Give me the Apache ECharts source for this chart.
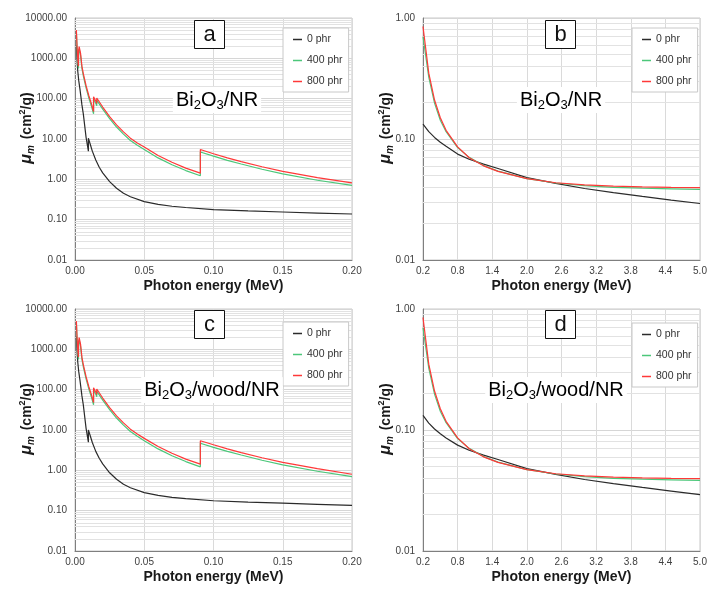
<!DOCTYPE html>
<html><head><meta charset="utf-8">
<script src="https://cdn.jsdelivr.net/npm/echarts@6/dist/echarts.min.js"></script>
<style>html,body{margin:0;padding:0;background:#fff}#c{width:720px;height:592px}</style>
</head><body><div id="c"></div>
<script>
// ---------- data ----------
const seriesNames = ['0 phr', '400 phr', '800 phr'];
const seriesColors = ['#2b2b2b', '#4cc77a', '#ff3838'];

// Panel a: Bi2O3/NR, low energy (MeV)
const aE0 = [0.001, 0.0015, 0.002, 0.0027, 0.0036, 0.005, 0.006, 0.008, 0.00966, 0.00966, 0.011, 0.0125, 0.015, 0.0175, 0.02, 0.025, 0.03, 0.035, 0.04, 0.05, 0.06, 0.07, 0.08, 0.1, 0.125, 0.15, 0.175, 0.2];
const aV0 = [2100, 900, 480, 280, 170, 70, 42, 11, 5.0, 10.5, 7.4, 5.0, 3.0, 2.0, 1.45, 0.88, 0.6, 0.45, 0.37, 0.28, 0.24, 0.215, 0.2, 0.178, 0.165, 0.155, 0.146, 0.138];
const aEBi = [0.001, 0.0015, 0.002, 0.0025, 0.00258, 0.00258, 0.003, 0.004, 0.005, 0.006, 0.008, 0.010, 0.012, 0.0134, 0.0134, 0.015, 0.0157, 0.0157, 0.020, 0.025, 0.030, 0.035, 0.040, 0.045, 0.050, 0.060, 0.070, 0.080, 0.0905, 0.0905, 0.100, 0.110, 0.120, 0.135, 0.150, 0.175, 0.200];
const aV400 = [4400, 1670, 835, 560, 545, 1320, 1715, 1190, 565, 370, 185, 104, 63, 42, 99, 77, 67, 92, 55, 32, 19.8, 13.2, 9.2, 7.0, 5.5, 3.4, 2.3, 1.65, 1.23, 4.75, 3.75, 2.95, 2.4, 1.78, 1.37, 0.95, 0.71];
const aV800 = [5000, 1900, 950, 640, 620, 1500, 1950, 1350, 640, 420, 210, 118, 72, 48, 112, 88, 76, 104, 62, 36, 22.5, 15, 10.5, 8.0, 6.3, 3.9, 2.65, 1.9, 1.42, 5.5, 4.3, 3.4, 2.75, 2.05, 1.58, 1.1, 0.82];

// Panel b: Bi2O3/NR, high energy (MeV)
const bE = [0.2, 0.3, 0.4, 0.5, 0.6, 0.8, 1.0, 1.25, 1.5, 2.0, 2.5, 3.0, 3.5, 4.0, 4.5, 5.0];
const bV0 = [0.133, 0.115, 0.103, 0.094, 0.087, 0.075, 0.068, 0.062, 0.057, 0.048, 0.043, 0.039, 0.036, 0.0335, 0.0313, 0.0293];
const bV400 = [0.70, 0.325, 0.198, 0.143, 0.115, 0.085, 0.0705, 0.0603, 0.0543, 0.047, 0.0433, 0.0412, 0.0399, 0.0392, 0.0387, 0.0383];
const bV800 = [0.85, 0.35, 0.21, 0.15, 0.118, 0.086, 0.070, 0.060, 0.054, 0.047, 0.0435, 0.0418, 0.0408, 0.0402, 0.0399, 0.0397];

// Panel c: Bi2O3/wood/NR, low energy
const cE0 = aE0.slice();
const cV0 = [2100, 900, 480, 280, 170, 70, 42, 11, 5.0, 10.0, 7.2, 4.9, 2.95, 2.0, 1.45, 0.87, 0.6, 0.45, 0.37, 0.28, 0.24, 0.213, 0.198, 0.176, 0.163, 0.153, 0.144, 0.136];
const cEBi = aEBi.slice();
const cV400 = [4400, 1670, 835, 560, 545, 1320, 1715, 1190, 565, 370, 185, 104, 63, 42, 99, 77, 67, 92, 55, 32, 19.8, 13.2, 9.2, 7.0, 5.4, 3.4, 2.3, 1.65, 1.22, 4.7, 3.7, 2.95, 2.4, 1.78, 1.36, 0.95, 0.70];
const cV800 = [5000, 1900, 950, 640, 620, 1500, 1950, 1350, 640, 420, 210, 118, 72, 48, 112, 88, 76, 104, 62, 36, 22.5, 15, 10.5, 8.0, 6.2, 3.9, 2.65, 1.9, 1.42, 5.4, 4.3, 3.4, 2.75, 2.05, 1.57, 1.1, 0.80];

// Panel d: Bi2O3/wood/NR, high energy
const dE = bE.slice();
const dV0 = [0.132, 0.114, 0.102, 0.093, 0.086, 0.075, 0.068, 0.062, 0.057, 0.048, 0.043, 0.039, 0.036, 0.0335, 0.0313, 0.0292];
const dV400 = [0.70, 0.325, 0.198, 0.143, 0.115, 0.085, 0.0705, 0.0603, 0.0543, 0.047, 0.0433, 0.0412, 0.0399, 0.0392, 0.0387, 0.0383];
const dV800 = [0.85, 0.35, 0.21, 0.15, 0.118, 0.086, 0.070, 0.060, 0.054, 0.047, 0.0435, 0.0418, 0.0408, 0.0402, 0.0399, 0.0397];

// tick labels
const lowXTicks = [0, 0.05, 0.10, 0.15, 0.20];
const highXTicks = [0.2, 0.8, 1.4, 2.0, 2.6, 3.2, 3.8, 4.4, 5.0];
const lowYTicks = [0.01, 0.1, 1, 10, 100, 1000, 10000];
const highYTicks = [0.01, 0.1, 1];
const panelLetters = ['a', 'b', 'c', 'd'];
const panelTitles = ['Bi2O3/NR', 'Bi2O3/NR', 'Bi2O3/wood/NR', 'Bi2O3/wood/NR'];

// ---------- build ----------
const zip = (xs, ys) => xs.map((x, i) => [x, ys[i]]);
const panels = [
  { sets: [[aE0, aV0], [aEBi, aV400], [aEBi, aV800]], low: true },
  { sets: [[bE, bV0], [bE, bV400], [bE, bV800]], low: false },
  { sets: [[cE0, cV0], [cEBi, cV400], [cEBi, cV800]], low: true },
  { sets: [[dE, dV0], [dE, dV400], [dE, dV800]], low: false }
];
const layout = [
  { left: 75, top: 18 }, { left: 423, top: 18 },
  { left: 75, top: 309 }, { left: 423, top: 309 }
];
const W = 277, H = 242;

const labelColor = '#404040';
const font = 'Liberation Sans, Arial, sans-serif';

function minorValues(ticks) {
  const out = [];
  for (let i = 0; i < ticks.length - 1; i++) {
    for (let k = 2; k <= 9; k++) out.push(ticks[i] * k);
  }
  return out;
}

const grid = [], xAxis = [], yAxis = [], series = [], legend = [], graphic = [];
panels.forEach((p, i) => {
  const L = layout[i];
  grid.push({ left: L.left, top: L.top, width: W, height: H, show: true, borderColor: '#c8c8c8', borderWidth: 1, backgroundColor: '#fff', containLabel: false });
  const xt = p.low ? lowXTicks : highXTicks;
  const yt = p.low ? lowYTicks : highYTicks;
  xAxis.push({
    type: 'value', gridIndex: i, min: xt[0], max: xt[xt.length - 1],
    name: 'Photon energy (MeV)', nameLocation: 'middle', nameGap: 19,
    nameTextStyle: { fontFamily: font, fontWeight: 'bold', fontSize: 14, color: '#1a1a1a' },
    axisLine: { show: true, onZero: false, lineStyle: { color: '#7f7f7f', width: 1 } },
    axisTick: { show: false, customValues: xt },
    axisLabel: { customValues: xt, formatter: v => p.low ? v.toFixed(2) : v.toFixed(1), fontFamily: font, fontSize: 10, color: labelColor, margin: 6 },
    splitLine: { show: true, lineStyle: { color: '#dadada', width: 1 } }
  });
  yAxis.push({
    type: 'log', gridIndex: i, min: yt[0], max: yt[yt.length - 1], logBase: 10,
    name: '{mu|μ}{sub|m}{t| (cm}{sup|2}{t|/g)}', nameLocation: 'middle', nameGap: p.low ? 39 : 28,
    nameMoveOverlap: false,
    nameTextStyle: {
      padding: [0, 0, 0, 22],
      rich: {
        mu: { fontFamily: font, fontWeight: 'bold', fontStyle: 'italic', fontSize: 16, lineHeight: 18, color: '#1a1a1a' },
        sub: { fontFamily: font, fontWeight: 'bold', fontStyle: 'italic', fontSize: 10, lineHeight: 10, padding: [8, 2, 0, 0], verticalAlign: 'bottom', color: '#1a1a1a' },
        t: { fontFamily: font, fontWeight: 'bold', fontSize: 14, lineHeight: 18, color: '#1a1a1a' },
        sup: { fontFamily: font, fontWeight: 'bold', fontSize: 9, lineHeight: 9, padding: [0, 0, 8, 0], verticalAlign: 'top', color: '#1a1a1a' }
      }
    },
    axisLine: { show: true, lineStyle: { color: '#7f7f7f', width: 1 } },
    axisTick: { show: false, customValues: yt },
    axisLabel: { customValues: yt, formatter: v => Number(v).toFixed(2), fontFamily: font, fontSize: 10, color: labelColor, margin: 8 },
    splitLine: { show: true, lineStyle: { color: '#d6d6d6', width: 1 } }
  });
  // minor log grid lines (drawn beneath the curves)
  series.push({
    name: 'minor-' + i, type: 'line', xAxisIndex: i, yAxisIndex: i, data: [], z: 1, silent: true,
    markLine: {
      z: 1, silent: true, symbol: 'none', animation: false, label: { show: false },
      lineStyle: { color: '#e2e2e2', width: 1, type: 'solid' },
      emphasis: { disabled: true },
      data: minorValues(yt).map(v => ({ yAxis: v }))
    }
  });
  p.sets.forEach((s, k) => {
    series.push({
      name: seriesNames[k], type: 'line', xAxisIndex: i, yAxisIndex: i,
      data: zip(s[0], s[1]), symbol: 'none', showSymbol: false, z: 6 + k,
      lineStyle: { color: seriesColors[k], width: 1.2 },
      itemStyle: { color: seriesColors[k] }, animation: false
    });
  });
  const legPos = [[283, 28], [632, 28], [283, 322], [632, 323]][i];
  legend.push({
    data: seriesNames, orient: 'vertical', left: legPos[0], top: legPos[1],
    backgroundColor: '#fff', borderColor: '#c8c8c8', borderWidth: 1,
    padding: [5, 6, 4, 10], itemGap: 8, itemWidth: 9, itemHeight: 1.5, icon: 'rect',
    textStyle: { fontFamily: font, fontSize: 10.5, lineHeight: 13, color: '#333' }, selectedMode: false, z: 20
  });
  // panel letter box
  const boxX = [194, 545, 194, 545][i], boxY = [20, 20, 310, 310][i];
  graphic.push({ type: 'rect', shape: { x: boxX + 0.5, y: boxY + 0.5, width: 30, height: 28 }, style: { fill: '#fff', stroke: '#111', lineWidth: 1 }, z: 50 });
  graphic.push({ type: 'text', x: boxX + 15.5, y: boxY + 14.5, style: { text: panelLetters[i], fontFamily: font, fontSize: 22, fill: '#111', align: 'center', verticalAlign: 'middle' }, z: 51 });
  // material label with subscripts
  const t = panelTitles[i];
  const rich = t.replace(/(\d)/g, '}{s|$1}{m|');
  const tx = [217, 561, 212, 556][i], ty = [100, 100, 390, 390][i];
  graphic.push({
    type: 'text', x: tx, y: ty, z: 40,
    style: {
      text: '{m|' + rich + '}', align: 'center', verticalAlign: 'middle', backgroundColor: '#fff', padding: [1, 3, 1, 3],
      rich: {
        m: { fontFamily: font, fontSize: 20, lineHeight: 24, color: '#111' },
        s: { fontFamily: font, fontSize: 13, lineHeight: 13, padding: [11, 0, 0, 0], verticalAlign: 'bottom', color: '#111' }
      }
    }
  });
});

const chart = echarts.init(document.getElementById('c'), null, { renderer: 'canvas' });
chart.setOption({ backgroundColor: '#fff', animation: false, grid, xAxis, yAxis, series, legend, graphic });
</script>
</body></html>
